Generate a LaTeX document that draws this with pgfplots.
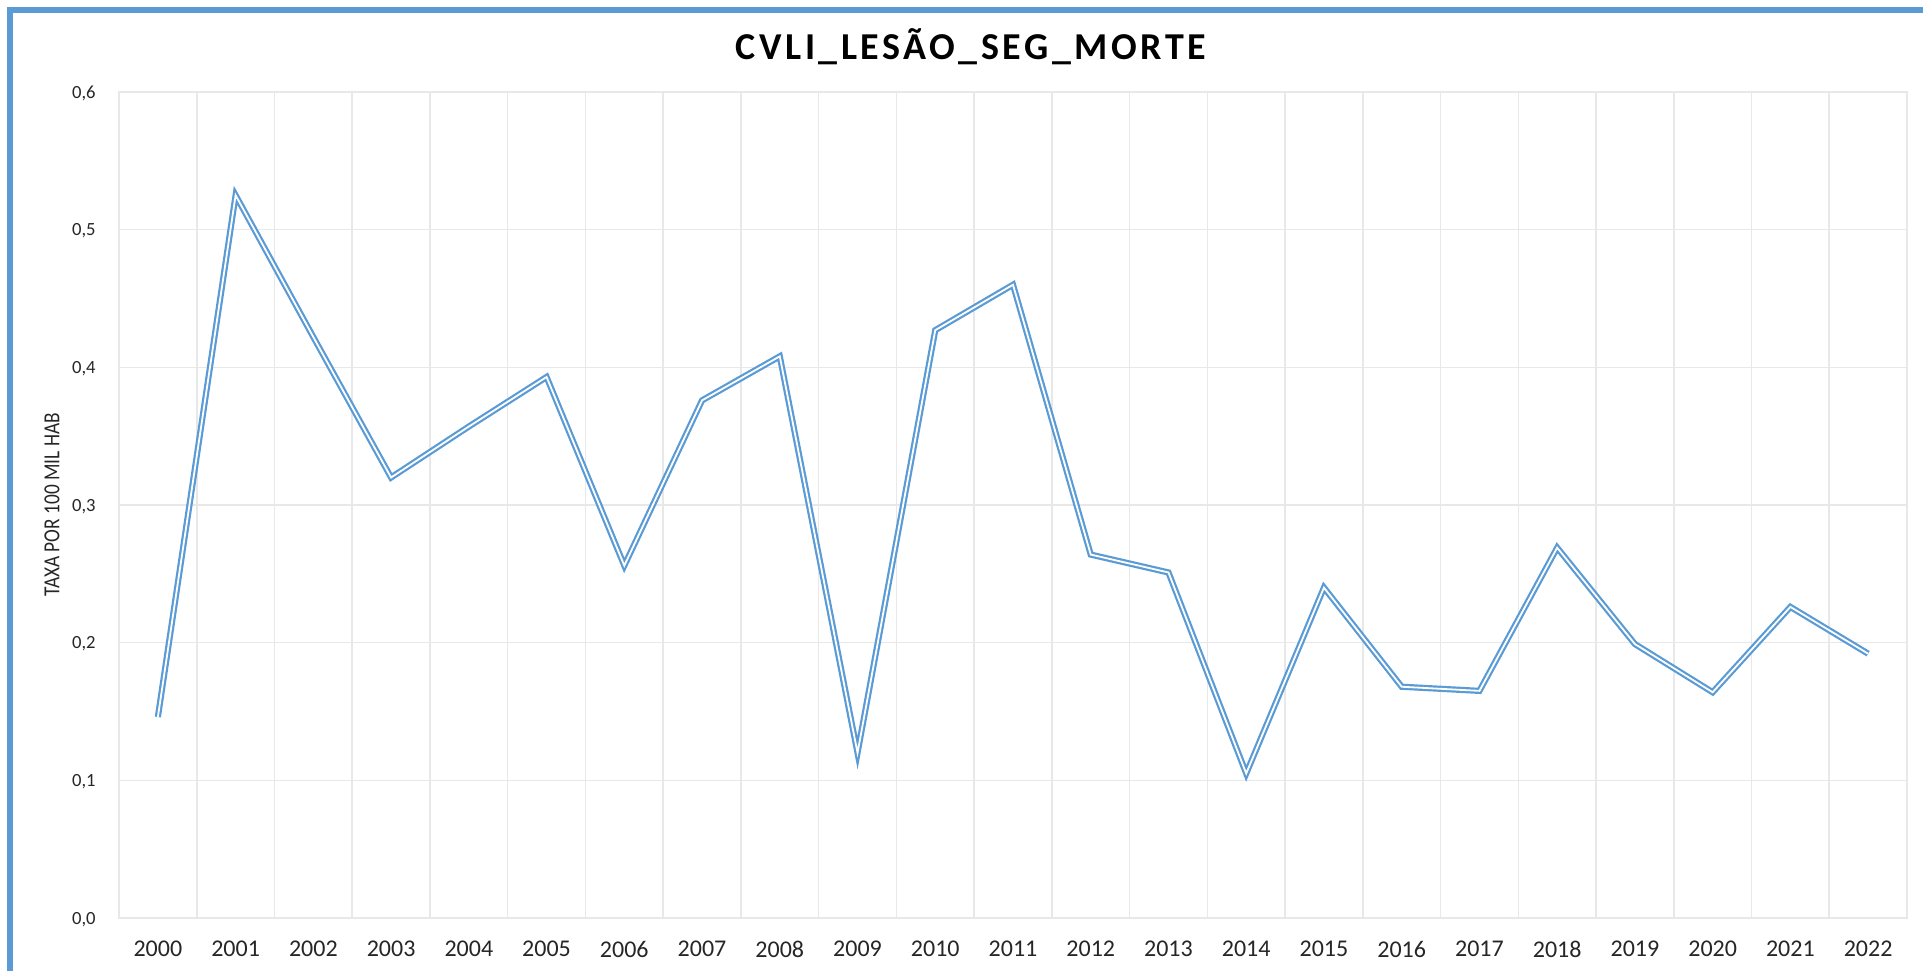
\documentclass[border=0pt]{standalone}
\usepackage{fontspec}
\setmainfont{Carlito}
\usepackage{graphicx}
\usepackage{pgfplots}
\pgfplotsset{compat=1.18}
\definecolor{exblue}{HTML}{5B9BD5}
\definecolor{gridgray}{HTML}{E8E8E8}
\begin{document}
\begin{tikzpicture}
\path[use as bounding box] (0pt,0pt) rectangle (961.5pt,-485.5pt);
\draw[exblue, line width=3pt, line join=miter] (4.85pt,-485.5pt) -- (4.85pt,-4.85pt) -- (961.5pt,-4.85pt);
\node[anchor=base, inner sep=0pt, font=\fontsize{19}{22}\selectfont\bfseries\addfontfeature{LetterSpace=9.3}] at (485.5pt,-29.5pt) {CVLI\_LESÃO\_SEG\_MORTE};
\begin{axis}[
  at={(59.5pt,-459pt)}, anchor=south west,
  scale only axis, width=894pt, height=413pt,
  xmin=-0.5, xmax=22.5, ymin=0, ymax=0.6,
  xtick={0,1,2,3,4,5,6,7,8,9,10,11,12,13,14,15,16,17,18,19,20,21,22},
  xticklabels={2000,2001,2002,2003,2004,2005,2006,2007,2008,2009,2010,2011,2012,2013,2014,2015,2016,2017,2018,2019,2020,2021,2022},
  minor xtick={-0.5,0.5,1.5,2.5,3.5,4.5,5.5,6.5,7.5,8.5,9.5,10.5,11.5,12.5,13.5,14.5,15.5,16.5,17.5,18.5,19.5,20.5,21.5,22.5},
  ytick={0,0.1,0.2,0.3,0.4,0.5,0.6},
  xmajorgrids=false, xminorgrids=true, ymajorgrids=true,
  major tick length=0pt, minor tick length=0pt,
  grid style={draw=gridgray, line width=0.8pt},
  minor grid style={draw=gridgray, line width=0.8pt},
  axis line style={draw=gridgray, line width=0.8pt},
  xticklabel style={font=\fontsize{12}{14}\selectfont, inner sep=0pt, anchor=north, yshift=-11.5pt, text=black!85},
  yticklabel style={font=\fontsize{9.3}{11}\selectfont, inner sep=0pt, anchor=east, xshift=-11.5pt, text depth=0pt, text=black!85,
    /pgf/number format/.cd, fixed, fixed zerofill, precision=1, use comma, assume math mode=true},
  scaled y ticks=false,
  ylabel={\scalebox{0.84}[1]{TAXA POR 100 MIL HAB}},
  ylabel style={at={(axis description cs:-0.03747,0.5)}, anchor=center, font=\fontsize{11.5}{13}\selectfont, text=black!85},
]
\addplot[color=exblue, line width=1.1pt, double=white, double distance=0.9pt, mark=none, line join=miter] coordinates {
(0,0.146) (1,0.525) (2,0.422) (3,0.320) (4,0.357) (5,0.393) (6,0.256) (7,0.376)
(8,0.408) (9,0.120) (10,0.427) (11,0.460) (12,0.264) (13,0.251) (14,0.105) (15,0.240)
(16,0.168) (17,0.165) (18,0.269) (19,0.199) (20,0.164) (21,0.226) (22,0.192)
};
\end{axis}
\end{tikzpicture}
\end{document}
